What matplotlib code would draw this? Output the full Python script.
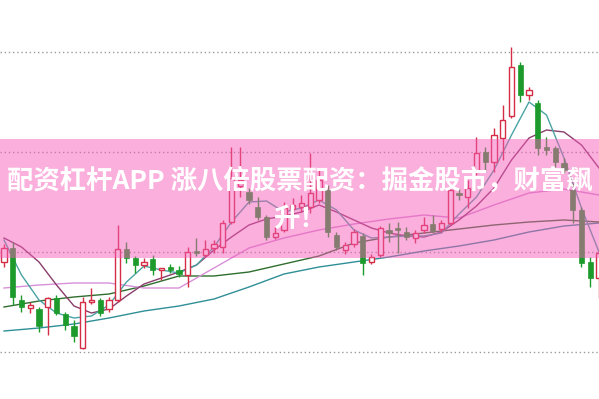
import matplotlib
matplotlib.use('Agg')
import matplotlib.pyplot as plt
from matplotlib.patches import Rectangle

plt.rcParams['font.family'] = ['Noto Sans CJK SC', 'DejaVu Sans']

# daily K-line data (open, high, low, close)
opens = [14.5, 15.2, 12.6, 12.2, 12.15, 12.25, 12.7, 11.9, 11.3, 10.2,
         12.5, 12.6, 12.15, 12.6, 15.15, 14.7, 14.35, 14.65, 14.1, 14.25,
         14.1, 13.85, 15.05, 14.85, 15.2, 15.25, 16.5, 18.3, 18.0, 17.25,
         16.75, 15.75, 16.1, 17.15, 17.25, 17.25, 17.6, 18.1, 15.85, 15.1,
         15.4, 15.8, 14.5, 14.85, 16.1, 16.2, 16.0, 15.7, 16.1, 16.4,
         16.15, 16.45, 17.95, 17.75, 19.0, 20.0, 19.5, 20.7, 21.8, 24.35,
         22.85, 22.45, 20.25, 20.2, 19.45, 18.1, 17.1, 14.5, 13.7]
highs = [15.4, 15.5, 12.85, 12.5, 12.25, 12.75, 12.85, 12.0, 11.6, 12.75,
         13.2, 12.7, 12.75, 16.35, 15.5, 14.8, 14.7, 14.85, 14.2, 14.4,
         14.3, 15.25, 15.7, 15.6, 15.6, 16.6, 20.25, 20.25, 18.2, 17.75,
         16.85, 16.25, 17.5, 17.7, 17.85, 19.95, 19.2, 18.35, 16.0, 15.5,
         16.15, 15.95, 14.9, 16.3, 16.45, 16.5, 16.25, 16.1, 16.75, 16.85,
         16.6, 18.25, 18.2, 18.6, 20.75, 20.25, 21.2, 22.35, 25.25, 24.5,
         23.25, 22.6, 20.75, 20.3, 19.7, 18.45, 17.25, 14.75, 15.1]
lows = [14.25, 12.35, 12.0, 11.95, 11.0, 10.85, 11.85, 11.1, 10.5, 10.15,
        12.4, 11.8, 12.0, 12.5, 14.45, 13.95, 14.2, 13.85, 13.6, 13.95,
        13.75, 13.25, 14.8, 14.75, 14.95, 14.95, 16.4, 17.75, 17.4, 16.6,
        15.6, 15.65, 16.0, 17.0, 17.0, 16.95, 17.45, 15.75, 15.1, 14.9,
        15.25, 13.85, 14.4, 14.75, 15.5, 14.95, 15.6, 15.45, 15.95, 15.95,
        16.0, 16.35, 17.6, 17.2, 18.85, 19.0, 19.0, 19.6, 21.7, 22.5,
        22.6, 19.85, 19.85, 19.25, 18.95, 16.45, 14.25, 13.25, 12.7]
closes = [15.2, 12.75, 12.25, 12.35, 11.3, 12.7, 11.95, 11.35, 10.8, 12.5,
          12.6, 11.95, 12.6, 15.15, 14.7, 14.35, 14.5, 14.1, 14.2, 14.1,
          13.9, 15.0, 14.95, 15.15, 15.4, 16.45, 18.7, 18.6, 17.6, 16.75,
          15.75, 15.95, 17.2, 17.35, 17.45, 17.95, 18.6, 16.0, 15.25, 15.35,
          16.0, 14.45, 14.75, 16.2, 15.95, 16.1, 15.75, 15.95, 16.35, 16.05,
          16.45, 18.1, 17.85, 18.2, 19.95, 19.5, 20.85, 21.6, 24.25, 22.85,
          23.1, 20.2, 20.1, 19.5, 19.1, 17.1, 14.45, 13.7, 14.95]

# moving averages
ma_fast_days = list(range(0, 69, 2))
ma5 = [15.6, 13.85, 12.6, 11.95, 11.7, 11.8, 12.35, 13.5, 14.3, 14.1,
       13.95, 14.35, 15.25, 16.5, 17.5, 17.55, 17.0, 17.2, 17.6, 17.1,
       16.1, 15.7, 15.75, 15.8, 15.8, 15.95, 16.9, 17.75, 19.1, 20.85,
       22.5, 21.85, 19.7, 17.2, 15.0]
ma10 = [15.7, 15.25, 14.5, 13.35, 12.3, 11.95, 12.15, 12.8, 13.4, 13.7,
        14.0, 14.35, 15.1, 15.75, 16.35, 16.65, 16.8, 17.0, 17.35, 17.0,
        16.6, 16.2, 15.95, 15.8, 15.75, 16.0, 16.6, 17.3, 18.2, 19.6,
        20.7, 21.1, 21.0, 20.35, 19.2]
ma_slow_days = list(range(0, 69, 4))
ma20 = [13.2, 13.35, 13.45, 13.45, 13.2, 13.2, 14.2, 15.2, 15.7, 16.1,
        16.4, 16.65, 16.85, 16.7, 17.35, 17.95, 18.15, 17.85]
ma30 = [12.25, 12.55, 12.75, 12.9, 13.3, 13.8, 13.8, 14.0, 14.4, 14.8,
        15.45, 15.75, 15.95, 16.15, 16.35, 16.5, 16.6, 16.5]
ma60 = [11.05, 11.2, 11.4, 11.7, 12.05, 12.3, 12.65, 13.25, 13.9, 14.25,
        14.5, 14.75, 15.05, 15.3, 15.6, 16.0, 16.3, 16.45]

title_line1 = '配资杠杆APP 涨八倍股票配资：掘金股市，财富飙'
title_line2 = '升！'

red = '#d42d45'
green = '#1d9a2c'

fig = plt.figure(figsize=(5.99, 3.99), dpi=100)
ax = fig.add_axes([0, 0, 1, 1])
ax.set_xlim(-0.457, 68.0)
ax.set_ylim(7.65, 27.6)
ax.axis('off')

for level in [25, 20, 15, 10]:
    ax.axhline(level, color='#9a9a9a', lw=1, linestyle=(0, (1, 2)), zorder=1)

ax.plot(ma_slow_days, ma60, color='#2f8f96', lw=1, zorder=2)
ax.plot(ma_slow_days, ma30, color='#2e6e2e', lw=1, zorder=2)
ax.plot(ma_slow_days, ma20, color='#d890d8', lw=1, zorder=2)
ax.plot(ma_fast_days, ma10, color='#8a3d6b', lw=1, zorder=2)
ax.plot(ma_fast_days, ma5, color='#4aa3a3', lw=1, zorder=2)

w = 0.6
for i in range(len(opens)):
    o, h, l, c = opens[i], highs[i], lows[i], closes[i]
    top, bot = max(o, c), min(o, c)
    if top - bot < 0.06:
        top = bot + 0.06
    if c >= o:
        ax.vlines(i, top, h, color=red, lw=1, zorder=3)
        ax.vlines(i, l, bot, color=red, lw=1, zorder=3)
        ax.add_patch(Rectangle((i - w / 2, bot), w, top - bot, facecolor='white',
                               edgecolor=red, lw=1, zorder=4))
    else:
        ax.vlines(i, l, h, color=green, lw=1, zorder=3)
        ax.add_patch(Rectangle((i - w / 2, bot), w, top - bot, facecolor=green,
                               edgecolor=green, lw=0.5, zorder=4))

# pink banner
ax.axhspan(14.7, 20.65, color='#f55cb8', alpha=0.49, lw=0, zorder=5)
fig.text(0.5, 1 - 181 / 399, title_line1, color='white', fontsize=19,
         fontweight='bold', ha='center', va='center', zorder=6)
fig.text(0.5, 1 - 219 / 399, title_line2, color='white', fontsize=19,
         fontweight='bold', ha='center', va='center', zorder=6)

fig.savefig('out.png', dpi=100)
